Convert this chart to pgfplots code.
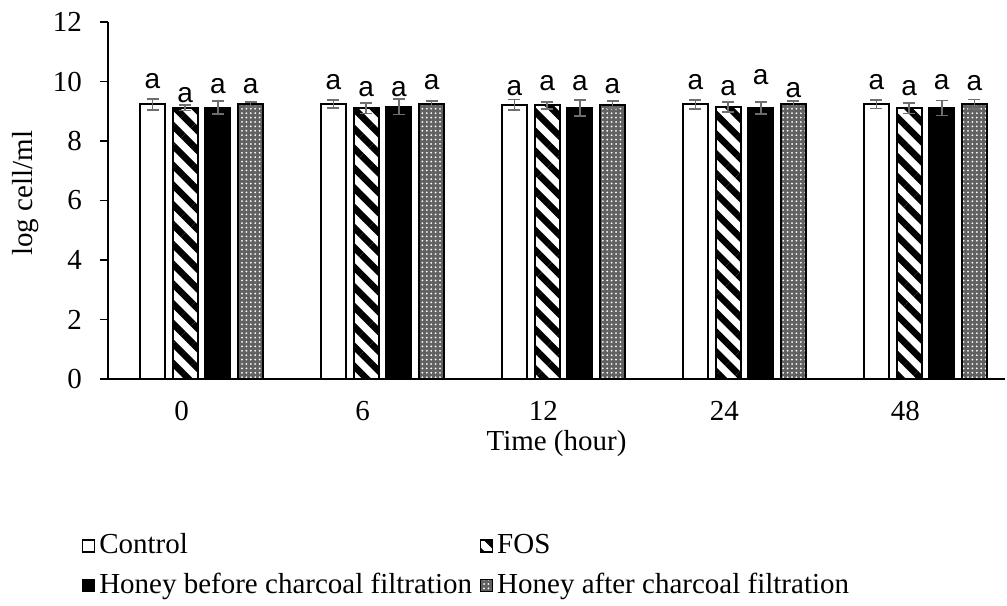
\documentclass[border=0pt]{standalone}
\usepackage{fontspec}
\setmainfont{Liberation Serif}
\newfontfamily\labfont{Liberation Sans}
\usepackage{pgfplots}
\usepackage{pgfplotstable}
\pgfplotsset{compat=1.18}
\usetikzlibrary{patterns.meta}
\definecolor{errgrey}{HTML}{6E6E6E}

% x = time group, y = mean, e = error, ly = height of the "a" label
\pgfplotstableread{
x y e ly
0 9.23 0.18 10.03
1 9.24 0.13 9.97
2 9.22 0.18 9.77
3 9.23 0.15 9.99
4 9.23 0.14 9.99
}\ctrl
\pgfplotstableread{
x y e ly
0 9.12 0.10 9.55
1 9.10 0.18 9.75
2 9.20 0.12 9.94
3 9.15 0.17 9.77
4 9.10 0.17 9.77
}\fos
\pgfplotstableread{
x y e ly
0 9.12 0.22 9.83
1 9.15 0.26 9.75
2 9.11 0.26 9.94
3 9.11 0.21 10.16
4 9.11 0.25 9.99
}\before
\pgfplotstableread{
x y e ly
0 9.23 0.09 9.83
1 9.24 0.11 9.97
2 9.22 0.12 9.83
3 9.23 0.11 9.71
4 9.23 0.16 9.94
}\after

\begin{document}
\fontsize{14.5bp}{16bp}\selectfont
\begin{tikzpicture}
\path[use as bounding box] (-54bp,-113.5bp) rectangle (449.5bp,189.5bp);
\begin{axis}[
  scale only axis,
  width=448.5bp, height=178.5bp,
  ybar=3.85bp, bar width=12.5bp,
  xmin=-0.517, xmax=4.44,
  ymin=0, ymax=12,
  ytick={0,2,...,12},
  xtick={0,1,2,3,4},
  xticklabels={0,6,12,24,48},
  axis x line*=bottom, axis y line*=left,
  axis line style={-, black, line width=0.8bp},
  tick align=outside,
  major tick length=4bp,
  y tick style={black, line width=0.8bp},
  x tick style={draw=none},
  /pgf/number format/assume math mode=true,
  xticklabel style={xshift=-10bp, yshift=-2bp},
  yticklabel style={xshift=-4bp},
  xlabel={Time (hour)},
  ylabel={log cell/ml},
  every axis x label/.style={at={(axis description cs:0.5,-0.18)}, anchor=center},
  every axis y label/.style={at={(axis description cs:-0.0914,0.52)}, anchor=center, rotate=90},
  error bars/y dir=both, error bars/y explicit,
  error bars/error bar style={errgrey, line width=0.8bp},
  error bars/error mark options={errgrey, line width=0.8bp, mark size=3bp, rotate=90},
  visualization depends on={\thisrow{ly}-\thisrow{y} \as \dl},
  nodes near coords={a},
  every node near coord/.append style={font=\labfont\fontsize{14bp}{15bp}\selectfont, anchor=center, shift={(axis direction cs:0,\dl)}},
  legend columns=2,
  legend cell align=left,
  legend style={draw=none, fill=none, at={(axis description cs:-0.036,-0.41)}, anchor=north west,
    row sep=3.3bp, /tikz/every even column/.append style={column sep=2bp}},
  legend image code/.code={\draw[#1, line width=0.6bp] (0bp,-3bp) rectangle (6bp,3bp);},
]
\addplot[draw=black, line width=1bp, fill=white]
  table[x=x, y=y, y error=e] {\ctrl};
\addplot[draw=black, line width=1bp, fill=white, pattern={Lines[angle=-45, distance=7bp, line width=3.3bp]}]
  table[x=x, y=y, y error=e] {\fos};
\addplot[draw=black, line width=1bp, fill=black]
  table[x=x, y=y, y error=e] {\before};
\addplot[draw=black, line width=1bp, fill=black!62, postaction={pattern={Dots[distance=2.2bp, radius=0.5bp]}, pattern color=white}]
  table[x=x, y=y, y error=e] {\after};
\legend{Control, FOS, Honey before charcoal filtration, Honey after charcoal filtration}
\end{axis}
\end{tikzpicture}
\end{document}
